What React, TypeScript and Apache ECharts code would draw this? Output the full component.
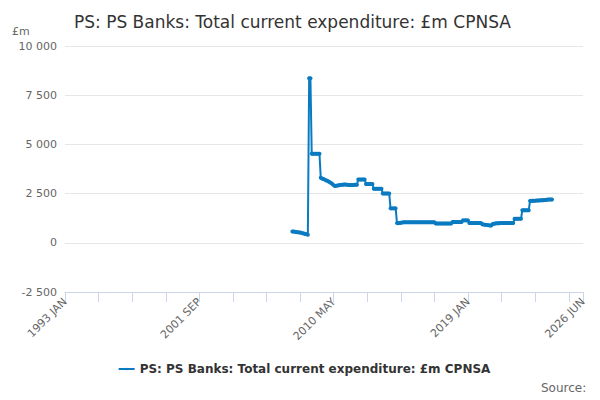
import React, { useEffect, useRef } from 'react';
import * as echarts from 'echarts';

const MONTHS = ['JAN', 'FEB', 'MAR', 'APR', 'MAY', 'JUN', 'JUL', 'AUG', 'SEP', 'OCT', 'NOV', 'DEC'];
const firstYear = 1993;
const monthCount = 402; // 1993 JAN .. 2026 JUN
const categories: string[] = [];
for (let i = 0; i < monthCount; i++) {
  categories.push(`${firstYear + Math.floor(i / 12)} ${MONTHS[i % 12]}`);
}

// series begins at 2007 SEP
const startIndex = 176;
const spending = [
  574, 570, 560, 550, 540, 530, 520, 505, 490, 470, 450, 430, 410,
  8360, 8360,
  4520, 4520, 4520, 4520, 4520, 4520, 4520,
  3300, 3270, 3240, 3210, 3180, 3150, 3120, 3080, 3040, 2990, 2920, 2890,
  2900, 2910, 2920, 2940, 2950, 2950, 2960, 2960,
  2950, 2950, 2940, 2940, 2940, 2940, 2950, 2950, 2950,
  3220, 3220, 3220, 3220, 3220, 3220,
  2990, 2990, 2990, 2990, 2990, 2990,
  2750, 2750, 2750, 2750, 2750, 2750, 2750,
  2500, 2500, 2500, 2500, 2500, 2500,
  1750, 1750, 1750, 1750, 1750,
  1000, 1000, 1010, 1020, 1030, 1040, 1040, 1040, 1040, 1040,
  1040, 1040, 1040, 1040, 1040, 1040, 1040, 1040, 1040, 1040,
  1040, 1040, 1040, 1040, 1040, 1040, 1040, 1040, 1040, 1040,
  980, 980, 980, 980, 980, 980, 980, 980, 980, 980, 980, 980, 980,
  1060, 1060, 1060, 1060, 1060, 1060, 1060, 1060,
  1140, 1140, 1140, 1140, 1140,
  1010, 1010, 1010, 1010, 1010, 1010, 1010, 1010, 1010, 1010,
  940, 930, 920, 910, 900, 890, 880, 880,
  960, 970, 980, 990, 990, 990,
  1010, 1010, 1010, 1010, 1010, 1010, 1010, 1010, 1010, 1010, 1010,
  1220, 1220, 1220, 1220, 1220, 1220,
  1650, 1650, 1650, 1650, 1650, 1650,
  2130, 2130, 2140, 2140, 2140, 2150, 2150, 2150, 2160, 2160, 2160, 2170, 2180, 2190, 2200, 2200, 2200, 2200,
];

const seriesData: (number | null)[] = categories.map((_, i) => {
  const k = i - startIndex;
  return k >= 0 && k < spending.length ? spending[k] : null;
});

const seriesName = 'PS: PS Banks: Total current expenditure: £m CPNSA';

const fmt = (v: number) => {
  const s = Math.abs(v).toString().replace(/\B(?=(\d{3})+(?!\d))/g, ' ');
  return (v < 0 ? '-' : '') + s;
};

const App: React.FC = () => {
  const chartRef = useRef<HTMLDivElement>(null);

  useEffect(() => {
    const chart = echarts.init(chartRef.current!, undefined, { renderer: 'svg' });
    const last = monthCount - 1;
    chart.setOption({
      animation: false,
      textStyle: { fontFamily: 'DejaVu Sans' },
      title: {
        text: 'PS: PS Banks: Total current expenditure: £m CPNSA',
        left: 61,
        top: 0,
        textStyle: { fontSize: 17, fontWeight: 'normal', color: '#333' },
      },
      graphic: [
        { type: 'text', left: 4, top: 18, style: { text: '£m', fontSize: 11, fill: '#666', fontFamily: 'DejaVu Sans' } },
        { type: 'text', left: 533, top: 374, style: { text: 'Source:', fontSize: 12, fill: '#666', fontFamily: 'DejaVu Sans' } },
      ],
      legend: {
        bottom: 20,
        left: 'center',
        itemWidth: 16,
        itemHeight: 3,
        textStyle: { fontSize: 12, fontWeight: 'bold', color: '#333' },
        data: [seriesName],
      },
      grid: { left: 57, right: 17, top: 38, bottom: 108 },
      xAxis: {
        type: 'category',
        data: categories,
        boundaryGap: false,
        axisLine: { onZero: false, lineStyle: { color: '#ccd6eb' } },
        axisTick: {
          length: 10,
          lineStyle: { color: '#ccd6eb' },
          interval: (i: number) => i % 26 === 0 || i === last,
        },
        axisLabel: {
          rotate: 45,
          color: '#666',
          fontSize: 11,
          interval: (i: number) => i % 104 === 0 || i === last,
          showMaxLabel: true,
        },
      },
      yAxis: {
        type: 'value',
        min: -2500,
        max: 10000,
        interval: 2500,
        axisLabel: { color: '#666', fontSize: 11, formatter: fmt },
        splitLine: { lineStyle: { color: '#e6e6e6' } },
      },
      series: [
        {
          name: seriesName,
          type: 'line',
          data: seriesData,
          color: '#0a7bc1',
          lineStyle: { width: 2 },
          symbol: 'circle',
          symbolSize: 4,
          showAllSymbol: true,
        },
      ],
    });
    return () => chart.dispose();
  }, []);

  return <div ref={chartRef} style={{ width: 592, height: 392 }} />;
};

export default App;
